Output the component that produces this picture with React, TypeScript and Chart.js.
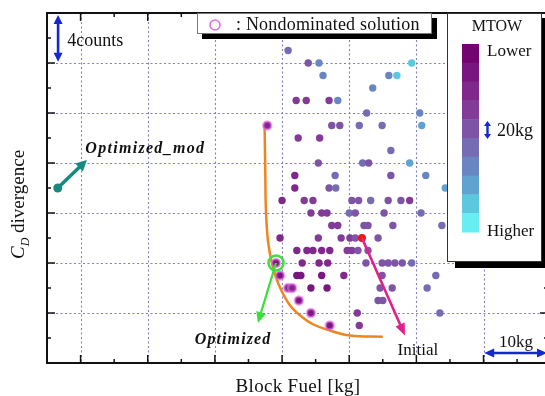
import React, { useEffect, useRef } from 'react';
import { Chart, registerables } from 'chart.js';

Chart.register(...registerables);

// ---------- data ----------
// Block fuel (kg, relative), C_D divergence (counts), MTOW colour level (0 = lower ... 9 = higher)
const fuelKg = [
  35.9, 38.9, 40.5, 41.1,
  37.1, 38.6, 42.0, 43.3,
  42.4, 43.6, 46.5, 49.9, 55.8,
  54.3,
  50.9, 52.1,
  48.5,
  47.6, 55.5,
  37.4, 40.6,
  51.2,
  40.4, 47.0, 47.9, 54.0,
  36.9, 42.9, 51.2, 56.4,
  36.9, 42.0, 43.0, 59.3,
  35.0, 38.3, 39.6, 45.4, 46.4, 48.2, 50.8, 52.7, 54.0,
  39.3, 40.9, 41.7, 45.0, 45.9, 50.2, 55.7,
  42.4, 43.3, 47.2, 47.8, 51.5, 58.8,
  34.7, 40.4, 43.8, 45.1, 45.9, 49.3,
  37.2, 38.7, 39.6, 40.9, 42.1, 44.7, 45.4, 46.3, 47.8,
  38.0, 40.5, 41.8, 47.5, 49.9, 50.8, 51.8, 52.9, 54.3,
  37.2, 37.8, 40.9, 44.2, 49.9, 57.9,
  39.3, 41.7, 49.6, 51.4, 56.6,
  49.3, 50.0,
  46.2, 58.5,
  46.5,
];
const cdCounts = [
  25, 24, 24, 23,
  21, 21, 21, 21,
  19, 19, 19, 19, 19,
  24,
  23, 23,
  22,
  20, 20,
  18, 18,
  17,
  16, 16, 16, 16,
  15, 15, 15, 15,
  14, 14, 14, 14,
  13, 13, 13, 13, 13, 13, 13, 13, 13,
  12, 12, 12, 12, 12, 12, 12,
  11, 11, 11, 11, 11, 11,
  10, 10, 10, 10, 10, 10,
  9, 9, 9, 9, 9, 9, 9, 9, 9,
  8, 8, 8, 8, 8, 8, 8, 8, 8,
  7, 7, 7, 7, 7, 7,
  6, 6, 6, 6, 6,
  5, 5,
  4, 4,
  3,
];
const mtowLevel = [
  5, 4, 6, 6,
  3, 3, 3, 6,
  4, 4, 5, 5, 7,
  8,
  6, 8,
  6,
  5, 6,
  3, 3,
  5,
  4, 5, 4, 7,
  2, 5, 4, 6,
  2, 4, 5, 7,
  2, 3, 3, 4, 4, 5, 4, 4, 3,
  3, 3, 3, 5, 4, 4, 5,
  3, 3, 4, 4, 4, 5,
  2, 3, 3, 3, 4, 4,
  2, 2, 2, 2, 2, 3, 3, 4, 4,
  2, 2, 2, 4, 4, 4, 4, 4, 5,
  1, 1, 1, 2, 4, 5,
  1, 1, 4, 4, 5,
  4, 4,
  3, 5,
  3,
];

// Nondominated solutions
const paretoFuel = [32.8, 34.1, 34.7, 35.9, 36.5, 37.5, 39.3, 42.1];
const paretoCd = [19, 8, 7, 6, 6, 5, 4, 3];
const paretoLevel = [2, 1, 1, 2, 2, 1, 1, 1];

// Pareto front curve (orange)
const frontFuel = [32.4, 32.5, 32.6, 32.9, 33.4, 34.0, 34.9, 36.2, 37.7, 39.6, 42.1, 45.1, 50.0];
const frontCd = [19.0, 15.4, 12.2, 9.8, 8.2, 7.0, 5.8, 4.6, 3.8, 3.1, 2.6, 2.2, 2.1];

const initialPt = { x: 46.9, y: 10 };
const optimizedPt = { x: 34.1, y: 8 };
const optimizedModPt = { x: 1.6, y: 14 };

const mtowPalette = [
  '#74046f', '#7a1680', '#80288b', '#823c98', '#7d54a6',
  '#766cb3', '#6a86c2', '#60a2d0', '#5cc8e0', '#68eef2',
];

const xMajor = [5, 15, 25, 35, 45, 55, 65, 75];
const xMinor = [0, 10, 20, 30, 40, 50, 60, 70];
const yMajor = [4, 8, 12, 16, 20, 24];
const yMinor = [2, 6, 10, 14, 18, 22, 26];

const X_MIN = 0, X_MAX = 74.6, Y_MIN = 0, Y_MAX = 28;

const SERIF = '"Liberation Serif", "Times New Roman", serif';

function arrowHead(ctx: CanvasRenderingContext2D, x: number, y: number, ang: number, hl: number, hw: number) {
  ctx.beginPath();
  ctx.moveTo(x, y);
  ctx.lineTo(x - hl * Math.cos(ang) + hw * Math.sin(ang), y - hl * Math.sin(ang) - hw * Math.cos(ang));
  ctx.lineTo(x - hl * Math.cos(ang) - hw * Math.sin(ang), y - hl * Math.sin(ang) + hw * Math.cos(ang));
  ctx.closePath();
  ctx.fill();
}

function arrow(ctx: CanvasRenderingContext2D, x1: number, y1: number, x2: number, y2: number,
  color: string, lw: number, hl: number, hw: number, both = false) {
  const ang = Math.atan2(y2 - y1, x2 - x1);
  ctx.save();
  ctx.strokeStyle = color;
  ctx.fillStyle = color;
  ctx.lineWidth = lw;
  ctx.lineCap = 'butt';
  const sx = both ? x1 + Math.cos(ang) * hl * 0.7 : x1;
  const sy = both ? y1 + Math.sin(ang) * hl * 0.7 : y1;
  const ex = x2 - Math.cos(ang) * hl * 0.7;
  const ey = y2 - Math.sin(ang) * hl * 0.7;
  ctx.beginPath();
  ctx.moveTo(sx, sy);
  ctx.lineTo(ex, ey);
  ctx.stroke();
  arrowHead(ctx, x2, y2, ang, hl, hw);
  if (both) arrowHead(ctx, x1, y1, ang + Math.PI, hl, hw);
  ctx.restore();
}

const gridPlugin = {
  id: 'dottedGrid',
  beforeDatasetsDraw(chart: any) {
    const { ctx, chartArea: a, scales } = chart;
    const xs = scales.x, ys = scales.y;
    ctx.save();
    ctx.strokeStyle = '#7f7fc6';
    ctx.lineWidth = 1.1;
    ctx.setLineDash([2, 2.5]);
    xMajor.forEach((v) => {
      if (v <= X_MIN || v >= X_MAX) return;
      const p = Math.round(xs.getPixelForValue(v)) + 0.5;
      ctx.beginPath(); ctx.moveTo(p, a.top); ctx.lineTo(p, a.bottom); ctx.stroke();
    });
    yMajor.forEach((v) => {
      const p = Math.round(ys.getPixelForValue(v)) + 0.5;
      ctx.beginPath(); ctx.moveTo(a.left, p); ctx.lineTo(a.right, p); ctx.stroke();
    });
    ctx.restore();
  },
};

const overlayPlugin = {
  id: 'overlay',
  afterDatasetsDraw(chart: any) {
    const { ctx, chartArea: a, scales } = chart;
    const X = (v: number) => scales.x.getPixelForValue(v);
    const Y = (v: number) => scales.y.getPixelForValue(v);

    // frame + inward ticks
    ctx.save();
    ctx.strokeStyle = '#111';
    ctx.lineWidth = 2;
    ctx.strokeRect(a.left, a.top, a.right - a.left, a.bottom - a.top);
    ctx.lineWidth = 1.5;
    const tick = (vals: number[], len: number) => {
      vals.forEach((v) => {
        if (v <= X_MIN || v >= X_MAX) return;
        const p = X(v);
        ctx.beginPath(); ctx.moveTo(p, a.bottom); ctx.lineTo(p, a.bottom - len); ctx.stroke();
        ctx.beginPath(); ctx.moveTo(p, a.top); ctx.lineTo(p, a.top + len); ctx.stroke();
      });
    };
    const tickY = (vals: number[], len: number) => {
      vals.forEach((v) => {
        const p = Y(v);
        ctx.beginPath(); ctx.moveTo(a.left, p); ctx.lineTo(a.left + len, p); ctx.stroke();
        ctx.beginPath(); ctx.moveTo(a.right, p); ctx.lineTo(a.right - len, p); ctx.stroke();
      });
    };
    tick(xMajor, 8); tick(xMinor, 4);
    tickY(yMajor, 8); tickY(yMinor, 4);
    ctx.restore();

    // arrows
    arrow(ctx, X(optimizedModPt.x), Y(optimizedModPt.y), X(5.95), Y(16.25), '#178a80', 3.5, 11, 5.5);
    arrow(ctx, X(optimizedPt.x), Y(optimizedPt.y), X(31.4), Y(3.2), '#3ae03a', 2.2, 11, 5);
    arrow(ctx, X(initialPt.x), Y(initialPt.y), X(53.3), Y(2.2), '#e0208c', 2.6, 12, 5);
    // scale bars
    arrow(ctx, X(1.65), Y(27.85), X(1.65), Y(24.1), '#1428d2', 2.6, 9, 4.5, true);
    arrow(ctx, X(65.1), Y(0.8), 547, Y(0.8), '#1428d2', 2.6, 10, 4.5, true);

    // texts
    ctx.save();
    ctx.fillStyle = '#111';
    ctx.textBaseline = 'alphabetic';
    ctx.font = `bold italic 16px ${SERIF}`;
    (ctx as any).letterSpacing = '1.3px';
    ctx.fillText('Optimized_mod', X(5.7), Y(16.8));
    (ctx as any).letterSpacing = '1.1px';
    ctx.fillText('Optimized', X(22.0), Y(1.55));
    (ctx as any).letterSpacing = '0px';
    ctx.font = `17px ${SERIF}`;
    ctx.fillText('Initial', X(52.2), Y(0.65));
    ctx.fillText('10kg', X(67.3), Y(1.3));
    ctx.font = `18px ${SERIF}`;
    ctx.fillText('4counts', X(3.0), Y(25.4));

    // axis titles
    ctx.font = `19px ${SERIF}`;
    (ctx as any).letterSpacing = '0.3px';
    ctx.textAlign = 'center';
    ctx.fillText('Block Fuel [kg]', 298, 392);
    (ctx as any).letterSpacing = '0px';
    ctx.textAlign = 'left';
    ctx.save();
    ctx.translate(24, 259);
    ctx.rotate(-Math.PI / 2);
    ctx.font = `italic 19px ${SERIF}`;
    ctx.fillText('C', 0, 0);
    const cw = ctx.measureText('C').width;
    ctx.font = `italic 12px ${SERIF}`;
    ctx.fillText('D', cw, 5);
    const dw = ctx.measureText('D').width;
    ctx.font = `19px ${SERIF}`;
    ctx.fillText(' divergence', cw + dw, 0);
    ctx.restore();
    ctx.restore();

    // nondominated legend
    ctx.save();
    ctx.fillStyle = '#000';
    ctx.fillRect(432, 18, 5, 21);
    ctx.fillRect(202, 33, 235, 6);
    ctx.fillStyle = '#fff';
    ctx.fillRect(197, 13, 235, 20);
    ctx.strokeStyle = '#777';
    ctx.lineWidth = 1;
    ctx.strokeRect(197.5, 13.5, 234, 20);
    ctx.strokeStyle = '#e070e0';
    ctx.lineWidth = 1.6;
    ctx.beginPath(); ctx.arc(215, 25, 5, 0, Math.PI * 2); ctx.stroke();
    ctx.fillStyle = '#111';
    ctx.font = `18px ${SERIF}`;
    (ctx as any).letterSpacing = '0.2px';
    ctx.fillText(': Nondominated solution', 236, 30);
    (ctx as any).letterSpacing = '0px';
    ctx.restore();

    // MTOW colour legend
    ctx.save();
    ctx.fillStyle = '#000';
    ctx.fillRect(542, 18, 6, 250);
    ctx.fillRect(455, 262, 93, 6);
    ctx.fillStyle = '#fff';
    ctx.fillRect(447, 13, 95, 249);
    ctx.strokeStyle = '#333';
    ctx.lineWidth = 1;
    ctx.strokeRect(447.5, 13.5, 94, 248);
    const top = 44, bh = 18.8;
    mtowPalette.forEach((c, i) => {
      ctx.fillStyle = c;
      ctx.fillRect(462, top + i * bh, 17, bh + 0.5);
    });
    ctx.fillStyle = '#111';
    ctx.font = `16px ${SERIF}`;
    ctx.textAlign = 'center';
    ctx.fillText('MTOW', 497, 31);
    ctx.textAlign = 'left';
    ctx.font = `17px ${SERIF}`;
    ctx.fillText('Lower', 487, 56);
    ctx.fillText('Higher', 487, 236);
    ctx.font = `18px ${SERIF}`;
    ctx.fillText('20kg', 497, 136);
    ctx.restore();
    arrow(ctx, 487.5, 121, 487.5, 139, '#1428d2', 2.4, 5, 3.5, true);
  },
};

export default function App() {
  const ref = useRef<HTMLCanvasElement | null>(null);

  useEffect(() => {
    if (!ref.current) return;
    const pts = fuelKg.map((x, i) => ({ x, y: cdCounts[i] }));
    const par = paretoFuel.map((x, i) => ({ x, y: paretoCd[i] }));
    const front = frontFuel.map((x, i) => ({ x, y: frontCd[i] }));

    const chart = new Chart(ref.current, {
      type: 'scatter',
      data: {
        datasets: [
          {
            label: 'Initial', data: [initialPt], pointRadius: 4, backgroundColor: '#ec1616',
            borderWidth: 0, order: 0,
          } as any,
          {
            label: 'Optimized', data: [optimizedPt], pointRadius: 7.5, backgroundColor: 'rgba(0,0,0,0)',
            borderColor: '#3ee03e', borderWidth: 2.5, order: 0,
          },
          {
            label: 'Nondominated', data: par, pointRadius: 4,
            backgroundColor: paretoLevel.map((l) => mtowPalette[l]),
            borderColor: 'rgba(232,110,232,0.6)', borderWidth: 2.5, order: 1,
          },
          {
            label: 'Designs', data: pts, pointRadius: 3.7,
            backgroundColor: mtowLevel.map((l) => mtowPalette[l]), borderWidth: 0, order: 2,
          },
          {
            label: 'Optimized_mod', data: [optimizedModPt], pointRadius: 4.5,
            backgroundColor: '#178a7c', borderWidth: 0, order: 2,
          },
          {
            type: 'line', label: 'Front', data: front, borderColor: '#f0841e', borderWidth: 2.5,
            pointRadius: 0, tension: 0.4, fill: false, showLine: true, order: 3,
          } as any,
        ],
      },
      options: {
        animation: false,
        responsive: false,
        maintainAspectRatio: false,
        events: [],
        layout: { autoPadding: false, padding: { left: 47, top: 13, right: 2, bottom: 33 } },
        scales: {
          x: { type: 'linear', display: false, min: X_MIN, max: X_MAX },
          y: { type: 'linear', display: false, min: Y_MIN, max: Y_MAX },
        },
        plugins: { legend: { display: false }, tooltip: { enabled: false } },
      },
      plugins: [gridPlugin, overlayPlugin],
    });
    return () => chart.destroy();
  }, []);

  return (
    <div style={{ position: 'fixed', left: 0, top: 0, width: 545, height: 396, overflow: 'hidden', background: '#fff' }}>
      <canvas ref={ref} width={550} height={396} style={{ width: 550, height: 396, display: 'block' }} />
    </div>
  );
}
